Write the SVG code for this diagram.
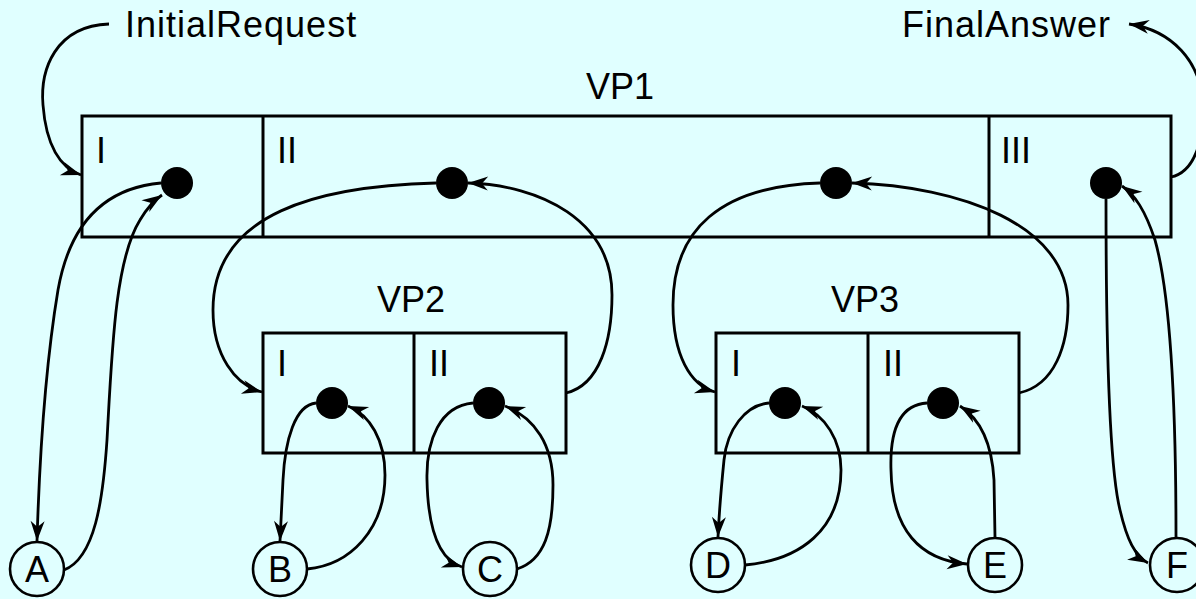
<svg xmlns="http://www.w3.org/2000/svg" width="1196" height="599" viewBox="0 0 1196 599">
  <style>
    .lbl { font-family: "Liberation Sans", Arial, sans-serif; font-size: 36px; fill: #000; }
    .ext { letter-spacing: 1px; }
    .mid { text-anchor: middle; }
    .box { fill: none; stroke: #000; stroke-width: 3; }
    .div { stroke: #000; stroke-width: 3; }
    .dot { fill: #000; }
    .term { fill: none; stroke: #000; stroke-width: 2.6; }
    .edge { fill: none; stroke: #000; stroke-width: 2.8; marker-end: url(#arrow); }
  </style>
  <defs>
    <!-- notched arrowhead, tip at the path end -->
    <marker id="arrow" markerUnits="userSpaceOnUse" markerWidth="22" markerHeight="16" refX="20" refY="7" orient="auto" overflow="visible">
      <path d="M0,0 L20,7 L0,14 L6,7 Z" fill="#000"/>
    </marker>
  </defs>

  <rect width="1196" height="599" fill="#e0ffff"/>

  <!-- external labels -->
  <text class="lbl ext" x="125" y="37">InitialRequest</text>
  <text class="lbl ext" x="902" y="37">FinalAnswer</text>

  <!-- VP1 -->
  <g id="vp1">
    <text class="lbl mid" x="620" y="99">VP1</text>
    <rect class="box" x="82" y="116" width="1089" height="121"/>
    <line class="div" x1="263" y1="116" x2="263" y2="237"/>
    <line class="div" x1="989" y1="116" x2="989" y2="237"/>
    <text class="lbl" x="96" y="163">I</text>
    <text class="lbl" x="277" y="163">II</text>
    <text class="lbl" x="1001" y="163">III</text>
    <circle class="dot" cx="177" cy="183" r="16"/>
    <circle class="dot" cx="452" cy="183" r="16"/>
    <circle class="dot" cx="836" cy="183" r="16"/>
    <circle class="dot" cx="1106" cy="183" r="16"/>
  </g>

  <!-- VP2 -->
  <g id="vp2">
    <text class="lbl mid" x="411" y="312">VP2</text>
    <rect class="box" x="263" y="333" width="303" height="120"/>
    <line class="div" x1="414" y1="333" x2="414" y2="453"/>
    <text class="lbl" x="277" y="376">I</text>
    <text class="lbl" x="429" y="376">II</text>
    <circle class="dot" cx="332" cy="403" r="16"/>
    <circle class="dot" cx="489" cy="403" r="16"/>
  </g>

  <!-- VP3 -->
  <g id="vp3">
    <text class="lbl mid" x="865" y="312">VP3</text>
    <rect class="box" x="716" y="333" width="303" height="120"/>
    <line class="div" x1="868" y1="333" x2="868" y2="453"/>
    <text class="lbl" x="731" y="376">I</text>
    <text class="lbl" x="883" y="376">II</text>
    <circle class="dot" cx="785" cy="403" r="16"/>
    <circle class="dot" cx="943" cy="403" r="16"/>
  </g>

  <!-- terminals -->
  <g id="a"><circle class="term" cx="37" cy="569" r="27"/><text class="lbl mid" x="37" y="582">A</text></g>
  <g id="b"><circle class="term" cx="280" cy="569" r="27"/><text class="lbl mid" x="280" y="582">B</text></g>
  <g id="c"><circle class="term" cx="490" cy="569" r="27"/><text class="lbl mid" x="490" y="582">C</text></g>
  <g id="d"><circle class="term" cx="718" cy="565" r="27"/><text class="lbl mid" x="718" y="578">D</text></g>
  <g id="e"><circle class="term" cx="995" cy="565" r="27"/><text class="lbl mid" x="995" y="578">E</text></g>
  <g id="f"><circle class="term" cx="1177" cy="565" r="27"/><text class="lbl mid" x="1177" y="578">F</text></g>

  <!-- connectors -->
  <g id="connectors">
    <path class="edge" d="M109,24 C 55,26 40,70 43,105 C 46,145 60,168 81,175"/>
    <path class="edge" d="M1171,177 C 1195,172 1203,140 1203,110 C 1203,60 1170,30 1129,24"/>

    <path class="edge" d="M161,183 C 105,188 70,222 58,290 C 48,350 40,440 37,541"/>
    <path class="edge" d="M64,570 C 95,558 103,500 107,440 C 112,350 115,260 140,220 Q 150,203 162,195"/>

    <path class="edge" d="M436,183 C 320,186 213,212 213,310 C 213,355 235,385 262,392"/>
    <path class="edge" d="M566,393 C 600,385 612,340 612,295 C 612,220 540,185 468,183"/>

    <path class="edge" d="M820,183 C 720,186 673,230 673,305 C 673,355 690,385 715,392"/>
    <path class="edge" d="M1019,393 C 1055,385 1068,345 1068,305 C 1068,225 960,186 852,183"/>

    <path class="edge" d="M1106,199 C 1106,350 1110,470 1120,510 C 1127,540 1135,556 1148,563"/>
    <path class="edge" d="M1176,537 C 1176,420 1172,300 1155,240 C 1145,210 1135,195 1122,186"/>

    <path class="edge" d="M316,403 C 295,405 285,440 283,480 L 280,541"/>
    <path class="edge" d="M307,569 C 350,565 385,530 385,475 C 385,440 370,415 348,406"/>

    <path class="edge" d="M473,403 C 440,406 426,440 427,480 C 428,530 440,560 462,567"/>
    <path class="edge" d="M517,569 C 545,560 553,530 553,485 C 553,445 535,418 505,406"/>

    <path class="edge" d="M769,403 C 745,405 727,430 724,460 C 721,490 719,515 718,537"/>
    <path class="edge" d="M745,565 C 800,560 841,530 841,470 C 841,440 825,415 802,406"/>

    <path class="edge" d="M927,403 C 895,405 890,440 891,470 C 892,530 920,560 967,564"/>
    <path class="edge" d="M995,537 L 994,480 C 992,445 982,420 960,406"/>
  </g>
</svg>
